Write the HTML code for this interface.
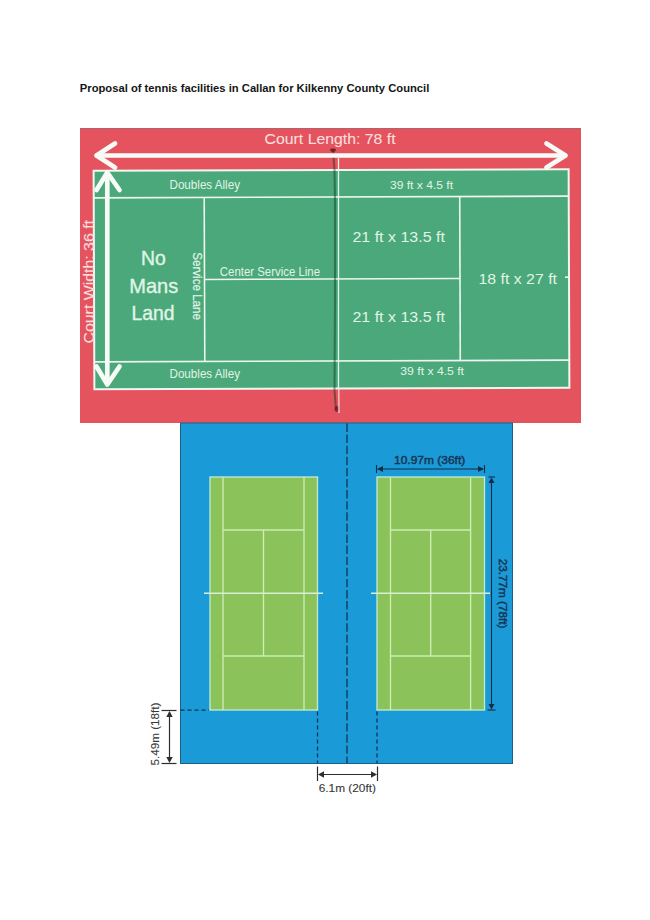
<!DOCTYPE html>
<html><head><meta charset="utf-8">
<style>
html,body{margin:0;padding:0;background:#fff;width:650px;height:920px;overflow:hidden;}
svg{position:absolute;left:0;top:0;display:block;}
text{font-family:"Liberation Sans",sans-serif;}
</style></head>
<body>
<svg width="650" height="920" viewBox="0 0 650 920">
<!-- title -->
<text x="79.8" y="92" font-size="11.5" font-weight="bold" fill="#151515" textLength="349.5" lengthAdjust="spacingAndGlyphs">Proposal of tennis facilities in Callan for Kilkenny County Council</text>

<!-- ============ RED COURT IMAGE ============ -->
<rect x="80" y="128" width="501" height="295" fill="#e5545e"/>
<rect x="80" y="128" width="501" height="1.2" fill="#b86068"/>
<g transform="rotate(-0.2 332 279)">
<rect x="94" y="170" width="475" height="218.5" fill="#4aa87b" stroke="#eef8f0" stroke-width="2"/>
<g stroke="#eef8f0" stroke-width="1.6" fill="none">
  <line x1="94" y1="197" x2="569" y2="197"/>
  <line x1="94" y1="361" x2="569" y2="361"/>
  <line x1="204.5" y1="197" x2="204.5" y2="361"/>
  <line x1="460" y1="197" x2="460" y2="361"/>
  <line x1="204.5" y1="279" x2="460" y2="279"/>
  <line x1="565" y1="278" x2="569" y2="278"/>
</g>
</g>
<!-- net -->
<path d="M333 150 L334.5 170 L335 200 L335 300 L334.5 390 L336 410" stroke="#002814" stroke-opacity="0.4" stroke-width="2.1" fill="none"/>
<ellipse cx="333" cy="150" rx="3" ry="1.8" fill="#5a1015" fill-opacity="0.7"/>
<ellipse cx="337" cy="409" rx="2.5" ry="3" fill="#5a1015" fill-opacity="0.6"/>
<line x1="338.5" y1="158" x2="338.5" y2="389" stroke="#e8f5ee" stroke-width="1.3"/>
<line x1="338.8" y1="389" x2="339" y2="413" stroke="#f4d0d4" stroke-width="1.3"/>
<!-- arrows -->
<g stroke="#f6fbf8" stroke-width="4.7" stroke-linecap="round" stroke-linejoin="round" fill="none">
  <line x1="97" y1="155.5" x2="565" y2="155.5"/>
  <polyline points="115,143.5 96.5,155.5 115,167.5"/>
  <polyline points="546.5,143.5 565.5,155.5 546.5,167.5"/>
  <line x1="107.3" y1="173" x2="107.3" y2="384"/>
  <polyline points="96.5,190 107.3,172.5 119.5,190"/>
  <polyline points="96.5,366.5 107.3,384.5 119.5,366.5"/>
</g>
<!-- texts -->
<g fill="#e0f5e6">
  <text x="169.5" y="188.8" font-size="12.2" textLength="70.5" lengthAdjust="spacingAndGlyphs">Doubles Alley</text>
  <text x="169.5" y="377.5" font-size="12.2" textLength="70.5" lengthAdjust="spacingAndGlyphs">Doubles Alley</text>
  <text x="390" y="189.4" font-size="11.6" textLength="63" lengthAdjust="spacingAndGlyphs">39 ft x 4.5 ft</text>
  <text x="400.3" y="375.4" font-size="11.6" textLength="63.7" lengthAdjust="spacingAndGlyphs">39 ft x 4.5 ft</text>
  <text x="352.4" y="242" font-size="15.5" textLength="92.6" lengthAdjust="spacingAndGlyphs">21 ft x 13.5 ft</text>
  <text x="352.4" y="322" font-size="15.5" textLength="92.6" lengthAdjust="spacingAndGlyphs">21 ft x 13.5 ft</text>
  <text x="478.5" y="284" font-size="15.5" textLength="78.5" lengthAdjust="spacingAndGlyphs">18 ft x 27 ft</text>
  <text x="219.8" y="275.9" font-size="12" textLength="100.2" lengthAdjust="spacingAndGlyphs">Center Service Line</text>
  <text x="141" y="264.8" font-size="19.8" stroke="#e0f5e6" stroke-width="0.35" textLength="24.8" lengthAdjust="spacingAndGlyphs">No</text>
  <text x="129.2" y="292.6" font-size="19.8" stroke="#e0f5e6" stroke-width="0.35" textLength="49" lengthAdjust="spacingAndGlyphs">Mans</text>
  <text x="131.6" y="320.2" font-size="19.8" stroke="#e0f5e6" stroke-width="0.35" textLength="43" lengthAdjust="spacingAndGlyphs">Land</text>
  <text transform="translate(192.7,252.2) rotate(90)" x="0" y="0" font-size="12.5" stroke="#e0f5e6" stroke-width="0.2" textLength="67.8" lengthAdjust="spacingAndGlyphs">Service Lane</text>
</g>
<text x="264.6" y="144.2" font-size="15.5" fill="#fadede" stroke="#fadede" stroke-width="0.12" textLength="131" lengthAdjust="spacingAndGlyphs">Court Length: 78 ft</text>
<text transform="translate(94,343.5) rotate(-90)" x="0" y="0" font-size="15" fill="#fadede" stroke="#fadede" stroke-width="0.12" textLength="123.5" lengthAdjust="spacingAndGlyphs">Court Width: 36 ft</text>

<!-- ============ BLUE COURT IMAGE ============ -->
<rect x="180.5" y="423" width="332" height="340.5" fill="#1b9ad8" stroke="#1d5f85" stroke-width="1"/>
<!-- left court -->
<g stroke="#cdeeb4" stroke-width="1.35" fill="none">
  <rect x="210" y="477" width="107.5" height="233" fill="#8bc25a" stroke="#bfead0"/>
  <line x1="223" y1="477" x2="223" y2="710"/>
  <line x1="304" y1="477" x2="304" y2="710"/>
  <line x1="223" y1="530" x2="304" y2="530"/>
  <line x1="223" y1="656" x2="304" y2="656"/>
  <line x1="263.5" y1="530" x2="263.5" y2="656"/>
  <line x1="204" y1="593.2" x2="323" y2="593.2" stroke="#d6f0d8"/>
  <rect x="377" y="477" width="107.5" height="233" fill="#8bc25a" stroke="#bfead0"/>
  <line x1="390.5" y1="477" x2="390.5" y2="710"/>
  <line x1="470.6" y1="477" x2="470.6" y2="710"/>
  <line x1="390.5" y1="530" x2="470.6" y2="530"/>
  <line x1="390.5" y1="656" x2="470.6" y2="656"/>
  <line x1="430.7" y1="530" x2="430.7" y2="656"/>
  <line x1="371" y1="593.2" x2="490" y2="593.2" stroke="#d6f0d8"/>
</g>
<!-- dashed -->
<g stroke="#10324f" stroke-width="1.25" fill="none">
  <line x1="347" y1="423.5" x2="347" y2="763" stroke-dasharray="8.4,2.7"/>
  <line x1="317.5" y1="711.5" x2="317.5" y2="763" stroke-dasharray="4,3"/>
  <line x1="377" y1="711.5" x2="377" y2="763" stroke-dasharray="4,3"/>
  <line x1="180.5" y1="710.2" x2="209" y2="710.2" stroke-dasharray="4,3"/>
</g>
<!-- dimension arrows -->
<g stroke="#142c44" stroke-width="1.1" fill="none">
  <line x1="378" y1="469" x2="483" y2="469"/>
  <line x1="376.5" y1="465" x2="376.5" y2="473"/>
  <line x1="484.5" y1="465" x2="484.5" y2="473"/>
  <line x1="491.5" y1="479" x2="491.5" y2="707"/>
  <line x1="488.5" y1="477" x2="495" y2="477"/>
  <line x1="487.5" y1="710" x2="495.5" y2="710"/>
</g>
<g fill="#142c44">
  <polygon points="377,469 383,466 383,472"/>
  <polygon points="484,469 478,466 478,472"/>
  <polygon points="491.5,477.5 488.5,483 494.5,483"/>
  <polygon points="491.5,709.5 488.5,704 494.5,704"/>
</g>
<g stroke="#2e2e2e" stroke-width="1.2" fill="none">
  <line x1="169.5" y1="712" x2="169.5" y2="761"/>
  <line x1="161.5" y1="710.5" x2="176.5" y2="710.5"/>
  <line x1="161.5" y1="763.5" x2="176.5" y2="763.5"/>
  <line x1="319" y1="774.5" x2="375" y2="774.5"/>
  <line x1="317.5" y1="766.5" x2="317.5" y2="781"/>
  <line x1="377.5" y1="766.5" x2="377.5" y2="781"/>
</g>
<g fill="#2e2e2e">
  <polygon points="169.5,711 166.3,717 172.7,717"/>
  <polygon points="169.5,763 166.3,757 172.7,757"/>
  <polygon points="318,774.5 324,771.3 324,777.7"/>
  <polygon points="377,774.5 371,771.3 371,777.7"/>
</g>
<text x="394" y="463.8" font-size="11.6" fill="#163552" stroke="#163552" stroke-width="0.45" textLength="71.2" lengthAdjust="spacingAndGlyphs">10.97m (36ft)</text>
<text transform="translate(499,558.8) rotate(90)" x="0" y="0" font-size="11.6" fill="#163552" stroke="#163552" stroke-width="0.45" textLength="69.6" lengthAdjust="spacingAndGlyphs">23.77m (78ft)</text>
<text transform="translate(158.7,765.5) rotate(-90)" x="0" y="0" font-size="11.4" fill="#383838" stroke="#383838" stroke-width="0.1" textLength="63" lengthAdjust="spacingAndGlyphs">5.49m (18ft)</text>
<text x="318.7" y="792" font-size="11.4" fill="#383838" stroke="#383838" stroke-width="0.1" textLength="57.3" lengthAdjust="spacingAndGlyphs">6.1m (20ft)</text>
</svg>
</body></html>
